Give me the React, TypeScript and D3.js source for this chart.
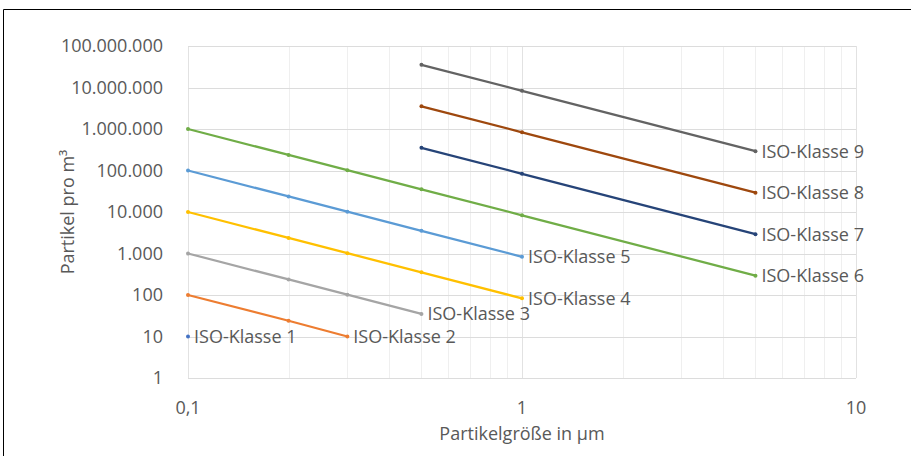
import React, { useEffect, useRef } from "react";
import * as d3 from "d3";

// particle sizes in µm and the ISO 14644-1 limits per class
const sizes = [0.1, 0.2, 0.3, 0.5, 1, 5];
const classNames = [
  "ISO-Klasse 1", "ISO-Klasse 2", "ISO-Klasse 3", "ISO-Klasse 4", "ISO-Klasse 5",
  "ISO-Klasse 6", "ISO-Klasse 7", "ISO-Klasse 8", "ISO-Klasse 9",
];
const class1 = [10, null, null, null, null, null];
const class2 = [100, 24, 10, null, null, null];
const class3 = [1000, 237, 102, 35, null, null];
const class4 = [10000, 2370, 1020, 352, 83, null];
const class5 = [100000, 23700, 10200, 3520, 832, null];
const class6 = [1000000, 237000, 102000, 35200, 8320, 293];
const class7 = [null, null, null, 352000, 83200, 2930];
const class8 = [null, null, null, 3520000, 832000, 29300];
const class9 = [null, null, null, 35200000, 8320000, 293000];
const colors = ["#4472C4", "#ED7D31", "#A5A5A5", "#FFC000", "#5B9BD5", "#70AD47", "#264478", "#9E480E", "#636363"];

const yTicks = [1, 10, 100, 1000, 10000, 100000, 1000000, 10000000, 100000000];
const yTickLabels = ["1", "10", "100", "1.000", "10.000", "100.000", "1.000.000", "10.000.000", "100.000.000"];
const xTicks = [0.1, 1, 10];
const xTickLabels = ["0,1", "1", "10"];
const xMinor = [0.2, 0.3, 0.4, 0.5, 0.6, 0.7, 0.8, 0.9, 2, 3, 4, 5, 6, 7, 8, 9];

const width = 911;
const height = 456;

const App = () => {
  const svgRef = useRef<SVGSVGElement>(null);

  useEffect(() => {
    const svg = d3.select(svgRef.current);
    svg.selectAll("*").remove();

    const font = "'Open Sans', sans-serif";
    const textColor = "#595959";
    const fs = 18;

    const x = d3.scaleLog().domain([0.1, 10]).range([188, 856]);
    const y = d3.scaleLog().domain([1, 1e8]).range([378, 46]);

    // frame (top and left edges only, like the crop)
    svg.append("line").attr("x1", 3.5).attr("x2", width).attr("y1", 9.5).attr("y2", 9.5).attr("stroke", "#000");
    svg.append("line").attr("x1", 3.5).attr("x2", 3.5).attr("y1", 9.5).attr("y2", height).attr("stroke", "#000");

    // minor vertical gridlines
    svg.append("g")
      .selectAll("line")
      .data(xMinor)
      .join("line")
      .attr("x1", (d) => Math.round(x(d)) + 0.5)
      .attr("x2", (d) => Math.round(x(d)) + 0.5)
      .attr("y1", y(1e8))
      .attr("y2", y(1))
      .attr("stroke", "#efefef");

    svg.append("g")
      .selectAll("line")
      .data(xTicks)
      .join("line")
      .attr("x1", (d) => Math.round(x(d)) + 0.5)
      .attr("x2", (d) => Math.round(x(d)) + 0.5)
      .attr("y1", y(1e8))
      .attr("y2", y(1))
      .attr("stroke", "#e2e2e2");

    svg.append("g")
      .selectAll("line")
      .data(yTicks)
      .join("line")
      .attr("x1", x(0.1))
      .attr("x2", x(10))
      .attr("y1", (d) => Math.round(y(d)) + 0.5)
      .attr("y2", (d) => Math.round(y(d)) + 0.5)
      .attr("stroke", "#dcdcdc");

    // y tick labels
    svg.append("g")
      .selectAll("text")
      .data(yTicks)
      .join("text")
      .attr("x", 163)
      .attr("y", (d) => y(d))
      .attr("dy", "0.36em")
      .attr("text-anchor", "end")
      .attr("fill", textColor)
      .style("font", `${fs}px ${font}`)
      .text((d, i) => yTickLabels[i]);

    // x tick labels
    svg.append("g")
      .selectAll("text")
      .data(xTicks)
      .join("text")
      .attr("x", (d) => x(d))
      .attr("y", 414)
      .attr("text-anchor", "middle")
      .attr("fill", textColor)
      .style("font", `${fs}px ${font}`)
      .text((d, i) => xTickLabels[i]);

    // axis titles
    svg.append("text")
      .attr("x", 522)
      .attr("y", 440)
      .attr("text-anchor", "middle")
      .attr("fill", textColor)
      .style("font", `${fs}px ${font}`)
      .text("Partikelgröße in µm");

    svg.append("text")
      .attr("transform", `translate(74,${(y(1) + y(1e8)) / 2}) rotate(-90)`)
      .attr("text-anchor", "middle")
      .attr("fill", textColor)
      .style("font", `${fs}px ${font}`)
      .text("Partikel pro m³");

    const series = [class1, class2, class3, class4, class5, class6, class7, class8, class9];
    const line = d3.line<[number, number]>()
      .x((d) => x(d[0]))
      .y((d) => y(d[1]));

    series.forEach((vals, i) => {
      const pts = sizes
        .map((s, j) => [s, vals[j]] as [number, number | null])
        .filter((p) => p[1] != null) as [number, number][];

      svg.append("path")
        .datum(pts)
        .attr("d", line)
        .attr("fill", "none")
        .attr("stroke", colors[i])
        .attr("stroke-width", 2.25);

      svg.append("g")
        .selectAll("circle")
        .data(pts)
        .join("circle")
        .attr("cx", (d) => x(d[0]))
        .attr("cy", (d) => y(d[1]))
        .attr("r", 2)
        .attr("fill", colors[i]);

      const last = pts[pts.length - 1];
      svg.append("text")
        .attr("x", x(last[0]) + 6)
        .attr("y", y(last[1]))
        .attr("dy", "0.36em")
        .attr("fill", textColor)
        .style("font", `${fs}px ${font}`)
        .text(classNames[i]);
    });
  }, []);

  return (
    <svg
      ref={svgRef}
      width={width}
      height={height}
      viewBox={`0 0 ${width} ${height}`}
      style={{ position: "absolute", left: 0, top: 0, background: "#fff" }}
    ></svg>
  );
};

export default App;
